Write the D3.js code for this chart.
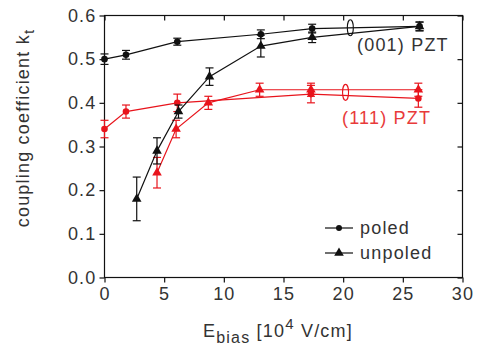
<!DOCTYPE html>
<html>
<head>
<meta charset="utf-8">
<script src="https://cdn.jsdelivr.net/npm/d3@7"></script>
<style>
  body { margin: 0; background: #fff; }
  text { font-family: "Liberation Sans", Arial, sans-serif; }
</style>
</head>
<body>
<svg id="chart" width="480" height="354"></svg>
<script>
// values: [E_bias, k_t, error]
var poled001 = [[0, 0.50, 0.012], [1.8, 0.51, 0.01], [6.1, 0.54, 0.008], [13.1, 0.557, 0.01], [17.4, 0.57, 0.01], [26.4, 0.575, 0.01]];
var unpoled001 = [[2.7, 0.18, 0.05], [4.4, 0.29, 0.03], [6.2, 0.38, 0.015], [8.8, 0.46, 0.02], [13.1, 0.53, 0.025], [17.4, 0.55, 0.012], [26.4, 0.575, 0.01]];
var poled111 = [[0, 0.34, 0.02], [1.8, 0.38, 0.015], [6.1, 0.40, 0.02], [17.3, 0.42, 0.02], [26.3, 0.41, 0.02]];
var unpoled111 = [[4.4, 0.24, 0.035], [6.0, 0.34, 0.02], [8.7, 0.40, 0.015], [13.0, 0.43, 0.015], [17.3, 0.43, 0.015], [26.3, 0.43, 0.015]];
var xTicks = [0, 5, 10, 15, 20, 25, 30];
var yTicks = [0, 0.1, 0.2, 0.3, 0.4, 0.5, 0.6];

var svg = d3.select("#chart");
var pLeft = 104.5, pRight = 462.5, pTop = 15.5, pBottom = 277.5;
var x = d3.scaleLinear().domain([0, 30]).range([pLeft, pRight]);
var y = d3.scaleLinear().domain([0, 0.6]).range([pBottom, pTop]);
var black = "#111", red = "#e8141c", textCol = "#333";
var fs = 18, ls = 1.2;

// frame
svg.append("rect")
  .attr("x", pLeft).attr("y", pTop)
  .attr("width", pRight - pLeft).attr("height", pBottom - pTop)
  .attr("fill", "none").attr("stroke", black).attr("stroke-width", 1.2);

// axes: outer ticks on bottom/left, inner ticks on top/right
svg.append("g").attr("transform", "translate(0," + pBottom + ")")
  .call(d3.axisBottom(x).tickValues(xTicks).tickSize(5).tickPadding(5).tickFormat(d3.format("d")));
svg.append("g").attr("transform", "translate(" + pLeft + ",0)")
  .call(d3.axisLeft(y).tickValues(yTicks).tickSize(5).tickPadding(3).tickFormat(d3.format(".1f")));
svg.append("g").attr("transform", "translate(0," + pTop + ")")
  .call(d3.axisBottom(x).tickValues(xTicks).tickSize(5).tickFormat(""));
svg.append("g").attr("transform", "translate(" + pRight + ",0)")
  .call(d3.axisLeft(y).tickValues(yTicks).tickSize(5).tickFormat(""));
svg.selectAll(".domain").remove();
svg.selectAll(".tick line").attr("stroke", black).attr("stroke-width", 1.2);
svg.selectAll(".tick text").attr("font-size", fs).attr("fill", textCol)
  .attr("font-family", "Liberation Sans, Arial, sans-serif").attr("letter-spacing", ls);

var line = d3.line().x(function(d) { return x(d[0]); }).y(function(d) { return y(d[1]); });
var tri = d3.symbol().type(d3.symbolTriangle).size(40);

function drawSeries(data, color, marker) {
  var g = svg.append("g");
  g.append("path").datum(data)
    .attr("d", line).attr("fill", "none").attr("stroke", color).attr("stroke-width", 1.2);
  var bars = g.selectAll(".eb").data(data).enter().append("g");
  bars.append("line")
    .attr("x1", function(d) { return x(d[0]); }).attr("x2", function(d) { return x(d[0]); })
    .attr("y1", function(d) { return y(d[1] - d[2]); }).attr("y2", function(d) { return y(d[1] + d[2]); })
    .attr("stroke", color).attr("stroke-width", 1.2);
  [-1, 1].forEach(function(s) {
    bars.append("line")
      .attr("x1", function(d) { return x(d[0]) - 4; }).attr("x2", function(d) { return x(d[0]) + 4; })
      .attr("y1", function(d) { return y(d[1] + s * d[2]); }).attr("y2", function(d) { return y(d[1] + s * d[2]); })
      .attr("stroke", color).attr("stroke-width", 1.2);
  });
  if (marker === "circle") {
    g.selectAll("circle").data(data).enter().append("circle")
      .attr("cx", function(d) { return x(d[0]); }).attr("cy", function(d) { return y(d[1]); })
      .attr("r", 3.3).attr("fill", color);
  } else {
    g.selectAll(".m").data(data).enter().append("path")
      .attr("d", tri)
      .attr("transform", function(d) { return "translate(" + x(d[0]) + "," + y(d[1]) + ")"; })
      .attr("fill", color);
  }
}

drawSeries(poled111, red, "circle");
drawSeries(unpoled111, red, "triangle");
drawSeries(poled001, black, "circle");
drawSeries(unpoled001, black, "triangle");

// group ellipses and labels
svg.append("ellipse").attr("cx", x(20.6)).attr("cy", y(0.572)).attr("rx", 3).attr("ry", 8)
  .attr("fill", "none").attr("stroke", black).attr("stroke-width", 1.1);
svg.append("ellipse").attr("cx", x(20.2)).attr("cy", y(0.424)).attr("rx", 3).attr("ry", 8)
  .attr("fill", "none").attr("stroke", red).attr("stroke-width", 1.1);
svg.append("text").attr("x", 357).attr("y", 51).attr("font-size", fs).attr("fill", textCol)
  .attr("letter-spacing", ls).text("(001) PZT");
svg.append("text").attr("x", 342).attr("y", 124).attr("font-size", fs).attr("fill", "#e83a3a")
  .attr("letter-spacing", ls).text("(111) PZT");

// legend
var legend = [["poled", "circle", 228], ["unpoled", "triangle", 253]];
legend.forEach(function(l) {
  svg.append("line").attr("x1", 325).attr("x2", 353).attr("y1", l[2]).attr("y2", l[2])
    .attr("stroke", black).attr("stroke-width", 1.2);
  if (l[1] === "circle") {
    svg.append("circle").attr("cx", 339).attr("cy", l[2]).attr("r", 3).attr("fill", black);
  } else {
    svg.append("path").attr("d", tri).attr("transform", "translate(339," + l[2] + ")").attr("fill", black);
  }
  svg.append("text").attr("x", 360).attr("y", l[2] + 6).attr("font-size", fs).attr("fill", textCol)
    .attr("letter-spacing", ls).text(l[0]);
});

// axis titles
var xt = svg.append("text").attr("x", 278).attr("y", 337).attr("text-anchor", "middle")
  .attr("font-size", fs).attr("fill", textCol).attr("letter-spacing", ls);
xt.append("tspan").text("E");
xt.append("tspan").attr("font-size", 16).attr("dy", 6).text("bias");
xt.append("tspan").attr("dy", -6).text(" [10");
xt.append("tspan").attr("font-size", 15).attr("dy", -8).text("4");
xt.append("tspan").attr("dy", 8).text(" V/cm]");

var yt = svg.append("text").attr("transform", "translate(29,128) rotate(-90)").attr("text-anchor", "middle")
  .attr("font-size", fs).attr("fill", textCol).attr("letter-spacing", ls);
yt.append("tspan").text("coupling coefficient k");
yt.append("tspan").attr("font-size", 15).attr("dy", 5).text("t");
</script>
</body>
</html>
